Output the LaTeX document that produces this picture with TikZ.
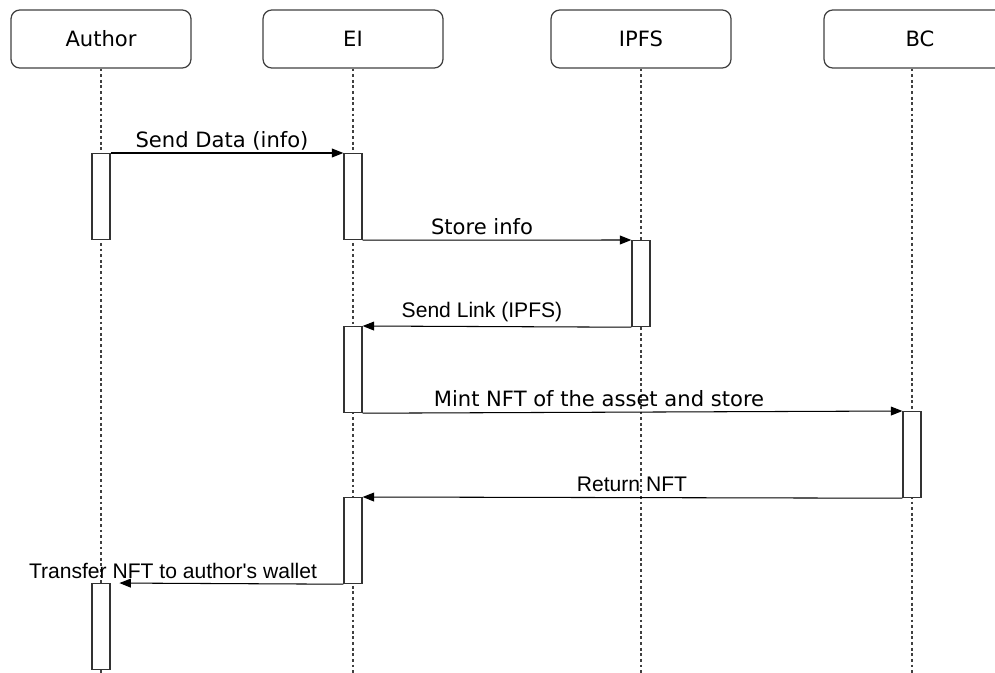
\documentclass[tikz,border=0pt]{standalone}
\usepackage{fontspec}
\setmainfont{DejaVu Sans}
\newfontfamily\arialfont{Liberation Sans}
\usetikzlibrary{arrows.meta,positioning}

\begin{document}
\begin{tikzpicture}[
    x=0.02cm, y=-0.02cm,
    actor/.style={rectangle, draw=black!75, rounded corners=5pt, line width=0.7pt,
                  minimum width=3.6cm, minimum height=1.16cm, font=\fontsize{12}{14}\selectfont},
    lifeline/.style={black!75, line width=0.8pt, dash pattern=on 1.6pt off 1.6pt},
    activation/.style={rectangle, draw=black!80, fill=white, line width=0.7pt, inner sep=0pt,
                       minimum width=0.36cm, minimum height=1.72cm, anchor=north},
    msg/.style={-{Triangle[length=6.5pt,width=5pt]}, line width=0.6pt},
    msglabel/.style={font=\fontsize{12}{14}\selectfont, inner sep=0pt},
    arlabel/.style={msglabel, font=\fontsize{12}{14}\selectfont\arialfont}
]
\useasboundingbox (0,0) rectangle (995,673);
\clip (0,0) rectangle (995,673);

% Participants
\node[actor] (author) at (101,39) {Author};
\node[actor] (ei)     at (353,39) {EI};
\node[actor] (ipfs)   at (641,39) {IPFS};
\node[actor, text width=3.24cm, align=left] (bc) at (914,39) {\hspace{1.45cm}BC};

% Lifelines
\coordinate (authorend) at (101,673);
\coordinate (eiend)     at (353,673);
\coordinate (ipfsend)   at (641,673);
\coordinate (bcend)     at (912,673);
\draw[lifeline] (author) -- (authorend);
\draw[lifeline] (ei) -- (eiend);
\draw[lifeline] (ipfs) -- (ipfsend);
\draw[lifeline] (bcend |- bc.south) -- (bcend);

% Activations
\node[activation] (au1) at (101,153) {};
\node[activation] (ei1) at (353,153) {};
\node[activation] (ip1) at (641,240) {};
\node[activation] (ei2) at (353,326) {};
\node[activation] (bc1) at (912,411) {};
\node[activation] (ei3) at (353,497) {};
\node[activation] (au2) at (101,583) {};

% Messages
\draw[msg] (au1.north east) -- (ei1.north west);
\draw[msg] (ei1.south east) -- (ip1.north west);
\draw[msg] (ip1.south west) -- (ei2.north east);
\draw[msg] (ei2.south east) -- (bc1.north west);
\draw[msg] (bc1.south west) -- (ei3.north east);
\draw[msg, shorten >=5pt] (ei3.south west) -- (au2.north east);

\node[msglabel] (l1) at (222,141) {Send Data (info)};
\node[msglabel] (l2) at (482,227) {Store info};
\node[arlabel]  (l3) at (482,312) {Send Link (IPFS)};
\node[msglabel] (l4) at (599,399) {Mint NFT of the asset and store};
\node[arlabel]  (l5) at (632,484) {Return NFT};
\node[arlabel]  (l6) at (173,571) {Transfer NFT to author's wallet};

\end{tikzpicture}
\end{document}
